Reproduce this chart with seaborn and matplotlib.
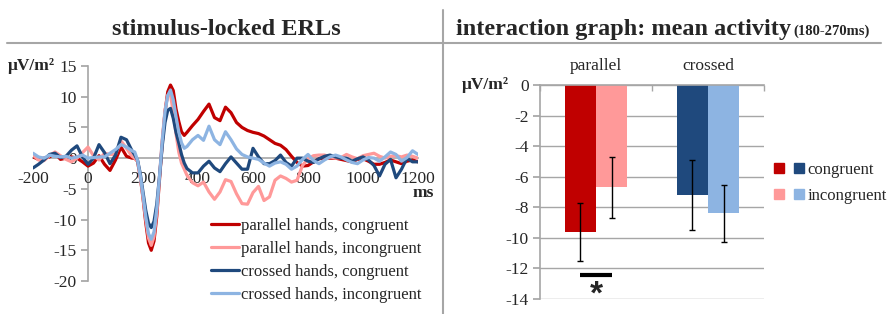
import numpy as np
import pandas as pd
import matplotlib.pyplot as plt
import seaborn as sns
from matplotlib.lines import Line2D
from matplotlib.legend_handler import HandlerTuple

# ERL traces (ms, uV/m²)
times = [-200, -180, -160, -140, -120, -100, -80, -60, -40, -20, 0, 20, 40, 60, 80, 100, 120, 140, 160,
         170, 180, 190, 200, 210, 220, 230, 240, 250, 260, 270, 280, 290, 300, 310, 320, 330, 340, 350, 360,
         380, 400, 420, 440, 460, 480, 500, 520, 540, 560, 580, 600, 620, 640, 660, 680, 700, 720, 740, 760,
         780, 800, 820, 840, 860, 880, 900, 920, 940, 960, 980, 1000, 1020, 1040, 1060, 1080, 1100, 1120,
         1140, 1160, 1180, 1200]

par_con = [0.2, -0.2, 0.0, 0.2, 0.8, -0.2, 0.0, 0.2, 0.0, -0.6, -1.3, -0.8, 0.4, -1.0, -2.0, -0.3, 1.8, 0.3, 0.0,
           0.0, -0.5, -3.0, -6.5, -10.5, -13.8, -15.0, -13.5, -9.5, -3.5, 2.5, 7.5, 10.8, 11.9, 11.0, 8.0, 6.0, 4.3, 3.7, 4.2,
           5.3, 6.3, 7.6, 8.8, 6.6, 6.1, 8.3, 7.4, 5.8, 5.0, 4.5, 4.2, 4.0, 3.6, 3.0, 2.4, 2.1, 1.4, 0.3, -0.7,
           -1.3, -1.2, -0.6, -0.1, 0.0, 0.0, 0.0, -0.2, -0.4, -0.6, -0.2, -0.1, -0.5, -1.0, -1.0, -0.7, -0.3, -0.6,
           -0.9, -0.5, -0.3, -0.6]
par_inc = [0.5, -0.3, -0.4, 0.4, 1.0, 0.4, -0.2, -0.6, 0.0, 0.9, 1.8, 0.4, -0.3, 0.8, 0.6, 0.6, 2.8, 1.6, 0.3,
           0.0, -0.5, -3.0, -6.3, -10.0, -13.0, -14.2, -12.8, -8.8, -3.0, 3.0, 7.8, 10.2, 10.3, 7.5, 4.0, 1.0, -0.8, -1.8, -2.8,
           -4.0, -4.5, -3.9, -5.5, -6.7, -5.5, -3.5, -3.8, -5.8, -7.4, -7.5, -5.6, -4.6, -6.9, -6.3, -3.6, -2.9, -3.3, -3.9, -3.6,
           -1.2, -0.1, 0.4, 0.5, 0.5, 0.2, 0.0, 0.1, 0.6, 0.2, -0.1, 0.4, 0.6, 0.8, 0.3, 0.0, 0.3, 0.4,
           0.2, 0.5, 0.3, 0.0]
cro_con = [-1.6, -1.0, -0.3, 0.6, 0.8, 0.1, 0.3, 1.3, 2.0, 0.2, -1.0, 0.0, 2.2, 0.9, -0.9, 0.5, 3.4, 3.0, 1.2,
           0.5, -0.3, -2.5, -5.5, -8.5, -10.6, -11.3, -10.3, -7.5, -3.0, 2.0, 5.8, 7.8, 8.1, 6.5, 4.2, 2.5, 0.6, -0.8, -1.7,
           -2.4, -2.4, -1.3, -0.5, -1.6, -2.2, -0.9, 0.2, -0.8, -1.8, -1.8, 1.6, 0.2, -0.9, -0.9, -0.4, 0.5, -0.7, -1.3, 0.0,
           0.0, -0.5, -0.7, -0.1, 0.3, 0.5, 0.2, 0.0, 0.0, -0.5, -0.1, 0.2, -0.3, -1.2, -2.9, -1.0, -0.2, -3.2,
           -1.8, 0.0, -0.6, -0.6]
cro_inc = [0.8, 0.2, 0.0, 0.5, 0.3, 0.2, 0.3, 0.0, 0.2, 0.5, 0.0, 0.1, 0.2, 0.2, 0.8, 1.4, 2.2, 1.8, 1.2,
           1.0, -0.3, -2.8, -6.0, -9.5, -12.3, -13.2, -12.0, -8.3, -3.0, 2.8, 7.5, 10.2, 11.1, 9.5, 6.8, 4.3, 2.5, 1.6, 1.9,
           3.0, 3.7, 2.9, 5.2, 3.0, 2.2, 4.3, 3.0, 1.5, 0.6, 0.2, 0.0, -0.2, -0.8, -1.3, -0.8, -0.6, -1.0, -1.8, -1.3,
           -0.2, 0.6, -0.4, -0.9, -0.3, 0.2, 0.5, 0.2, -0.3, -0.7, -0.9, -0.3, 0.1, 0.0, -0.5, 0.2, 1.0, 0.6,
           -0.5, 0.1, 1.2, 0.6]

conditions = ['parallel hands, congruent', 'parallel hands, incongruent',
              'crossed hands, congruent', 'crossed hands, incongruent']
line_colors = ['#C00000', '#FF9999', '#1F497D', '#8DB4E2']

# mean activity 180-270ms
groups = ['parallel', 'crossed']
congruency = ['congruent', 'incongruent']
bar_means = [[-9.6, -6.7], [-7.2, -8.4]]
bar_errors = [[1.9, 2.0], [2.3, 1.85]]
bar_colors = [['#C00000', '#FF9999'], ['#1F497D', '#8DB4E2']]

sns.set_theme(style='white')
plt.rcParams['font.family'] = ['Liberation Serif', 'DejaVu Serif']
plt.rcParams['axes.unicode_minus'] = False
gray = '#A6A6A6'
fs = 12.5
fs_leg = 12

erl_df = pd.concat([pd.DataFrame({'ms': times, 'uV': vals, 'condition': name})
                    for name, vals in zip(conditions, [par_con, par_inc, cro_con, cro_inc])])

bar_df = pd.DataFrame([{'group': g, 'congruency': c, 'value': bar_means[i][j]}
                       for i, g in enumerate(groups) for j, c in enumerate(congruency)])

W, H = 892, 314
fig = plt.figure(figsize=(W / 100, H / 100), dpi=100)

#! left panel: ERL curves
ax1 = fig.add_axes([33 / W, 33 / H, 385 / W, 215 / H])
sns.lineplot(data=erl_df, x='ms', y='uV', hue='condition', hue_order=conditions,
             palette=dict(zip(conditions, line_colors)), linewidth=2.3, estimator=None, sort=False, ax=ax1)
ax1.set_xlim(-200, 1200)
ax1.set_ylim(-20, 15)
ax1.set_xticks(range(-200, 1201, 200))
ax1.set_yticks(range(-20, 16, 5))
ax1.set_xlabel('')
ax1.set_ylabel('')
for s in ['top', 'right']:
    ax1.spines[s].set_visible(False)
ax1.spines['left'].set_position(('data', 0))
ax1.spines['bottom'].set_position(('data', 0))
for s in ['left', 'bottom']:
    ax1.spines[s].set_color(gray)
    ax1.spines[s].set_linewidth(1.2)
    ax1.spines[s].set_zorder(0.5)
ax1.tick_params(axis='x', direction='in', length=3, pad=9, color=gray, labelsize=fs)
ax1.tick_params(axis='y', direction='out', length=5, pad=3, color=gray, labelsize=fs, left=True)
handles, labels = ax1.get_legend_handles_labels()
ax1.legend(handles, labels, loc='upper left', bbox_to_anchor=(211 / W, 1 - 218 / H),
           bbox_transform=fig.transFigure, frameon=False, fontsize=fs_leg, handlelength=1.7,
           handletextpad=0.1, labelspacing=0.42, borderpad=0, borderaxespad=0)

#! right panel: bars
ax2 = fig.add_axes([540 / W, 15 / H, 224 / W, 214 / H])
sns.barplot(data=bar_df, x='group', y='value', hue='congruency', order=groups, hue_order=congruency,
            width=0.56, errorbar=None, saturation=1, legend=False, ax=ax2)
bar_conts = list(ax2.containers)
for j, cont in enumerate(bar_conts):
    for i, patch in enumerate(cont):
        patch.set_facecolor(bar_colors[i][j])
        patch.set_edgecolor('none')
        cx = patch.get_x() + patch.get_width() / 2
        ax2.errorbar(cx, bar_means[i][j], yerr=bar_errors[i][j], color='black', lw=1, capsize=2.5, capthick=1)

x0 = bar_conts[0][0].get_x() + bar_conts[0][0].get_width() / 2
x1 = bar_conts[1][0].get_x() + bar_conts[1][0].get_width() / 2
ax2.plot([x0, x1], [-12.45, -12.45], color='black', lw=3, solid_capstyle='butt')
ax2.text((x0 + x1) / 2, -12.75, '*', ha='center', va='top', fontsize=24, fontweight='bold',
         family='Liberation Sans')

ax2.set_xlim(-0.5, 1.5)
ax2.set_ylim(-14, 0)
ax2.set_yticks(range(-14, 1, 2))
ax2.set_xlabel('')
ax2.set_ylabel('')
ax2.xaxis.tick_top()
ax2.set_xticks([-0.5, 0.5, 1.5], minor=True)
ax2.tick_params(axis='x', which='major', length=0, pad=8, labelsize=fs)
ax2.tick_params(axis='x', which='minor', direction='in', length=4, color=gray, top=True)
ax2.tick_params(axis='y', direction='out', length=5, pad=3, color=gray, labelsize=fs, left=True)
ax2.yaxis.grid(True, color=gray, lw=1)
ax2.set_axisbelow(True)
for s in ['bottom', 'right']:
    ax2.spines[s].set_visible(False)
for s in ['top', 'left']:
    ax2.spines[s].set_color(gray)
    ax2.spines[s].set_linewidth(1.2)

sq = dict(marker='s', linestyle='none', markersize=6.5)
leg_handles = [(Line2D([], [], color=bar_colors[0][0], **sq), Line2D([], [], color=bar_colors[1][0], **sq)),
               (Line2D([], [], color=bar_colors[0][1], **sq), Line2D([], [], color=bar_colors[1][1], **sq))]
ax2.legend(leg_handles, congruency, handler_map={tuple: HandlerTuple(ndivide=None, pad=0.5)},
           loc='upper left', bbox_to_anchor=(774 / W, 1 - 162 / H), bbox_transform=fig.transFigure,
           frameon=False, fontsize=fs_leg, handlelength=1.8, handletextpad=0.2, labelspacing=0.62,
           borderpad=0, borderaxespad=0)

#! titles, labels and separators
fig.text(226 / W, 1 - 35 / H, 'stimulus-locked ERLs', ha='center', va='baseline', fontsize=17.5, fontweight='bold')
t2 = fig.text(456 / W, 1 - 35 / H, 'interaction graph: mean activity', ha='left', va='baseline',
              fontsize=17.5, fontweight='bold')
fig.canvas.draw()
bb = t2.get_window_extent()
fig.text(bb.x1 / W + 2 / W, 1 - 35 / H, '(180-270ms)', ha='left', va='baseline', fontsize=10.5, fontweight='bold')

fig.text(55 / W, 1 - 66 / H, 'μV/m²', ha='right', va='center', fontsize=fs, fontweight='bold')
fig.text(509 / W, 1 - 85 / H, 'μV/m²', ha='right', va='center', fontsize=fs, fontweight='bold')
fig.text(434 / W, 1 - 193 / H, 'ms', ha='right', va='center', fontsize=fs, fontweight='bold')

fig.add_artist(Line2D([7 / W, 881 / W], [1 - 43 / H, 1 - 43 / H], color=gray, lw=1.5))
fig.add_artist(Line2D([443 / W, 443 / W], [1 - 10 / H, 0], color=gray, lw=1.5))

fig.savefig('out.png', dpi=100)
plt.close()
